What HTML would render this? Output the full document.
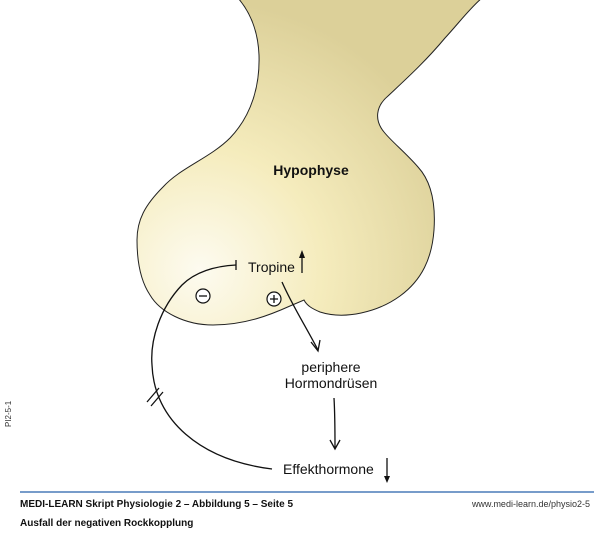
<!DOCTYPE html>
<html><head><meta charset="utf-8"><style>
body{margin:0;background:#fff;width:600px;height:530px;overflow:hidden;font-family:"Liberation Sans",sans-serif}
</style></head><body>
<svg width="600" height="530" viewBox="0 0 600 530" xmlns="http://www.w3.org/2000/svg">
<defs>
<radialGradient id="g" cx="200" cy="270" r="270" gradientUnits="userSpaceOnUse">
<stop offset="0" stop-color="#fdfbf0"/>
<stop offset="0.45" stop-color="#f5ecbd"/>
<stop offset="1" stop-color="#dcd099"/>
</radialGradient>
</defs>
<path d="M238,-2 C250,12 258,30 259,55 C260,85 252,115 230,138 C210,158 180,168 163,187 C145,205 137,220 137,240 C137,260 140,280 150,295 C160,312 185,325 213,325 C245,325 270,315 290,306 L304,300 C307,306 313,309 320,312 C345,320 378,312 400,296 C422,280 432,258 434,230 C436,200 430,180 418,167 C405,152 392,142 384,132 C374,120 376,106 388,96 C405,80 425,62 445,38 C458,24 470,8 482,-2 Z" fill="url(#g)" stroke="#222" stroke-width="1"/>
<g fill="none" stroke="#111" stroke-width="1.3">
<path d="M236,265 C215,266 195,272 182,285 C160,308 150,340 152,365 C154,420 200,460 272,469"/>
<path d="M236,260 L236,270"/>
<path d="M147,402 L159,388 M151,406 L163,392"/>
<path d="M282,282 C292,305 305,325 318,350"/>
<path d="M311,342 L318,351 L320,340"/>
<path d="M334,398 C335,415 335,430 335,448"/>
<path d="M330,440 L335,449 L340,440"/>
<path d="M302,273 L302,256"/>
<path d="M387,458 L387,478"/>
</g>
<path d="M299,258 L302,250 L305,258 Z" fill="#111"/>
<path d="M384,476 L387,483 L390,476 Z" fill="#111"/>
<g fill="#fff" stroke="#111" stroke-width="1.2">
<circle cx="203" cy="296" r="7"/>
<circle cx="274" cy="299" r="7"/>
</g>
<g stroke="#111" stroke-width="1.3">
<path d="M199,296 L207,296"/>
<path d="M270,299 L278,299 M274,295 L274,303"/>
</g>
<g fill="#111" font-family="Liberation Sans, sans-serif">
<text x="311" y="175" font-size="14" font-weight="bold" text-anchor="middle">Hypophyse</text>
<text x="248" y="272" font-size="14">Tropine</text>
<text x="331" y="372" font-size="14" text-anchor="middle">periphere</text>
<text x="331" y="388" font-size="14" text-anchor="middle">Hormondrüsen</text>
<text x="283" y="474" font-size="14">Effekthormone</text>
<text x="20" y="507" font-size="10" font-weight="bold">MEDI-LEARN Skript Physiologie 2 – Abbildung 5 – Seite 5</text>
<text x="20" y="526" font-size="10" font-weight="bold">Ausfall der negativen Rockkopplung</text>
<text x="590" y="507" font-size="9" text-anchor="end" fill="#333">www.medi-learn.de/physio2-5</text>
<text transform="translate(11,427) rotate(-90)" font-size="8" fill="#333">PI2-5-1</text>
</g>
<line x1="20" y1="492" x2="594" y2="492" stroke="#4a7bb8" stroke-width="1.5"/>
</svg>
</body></html>
